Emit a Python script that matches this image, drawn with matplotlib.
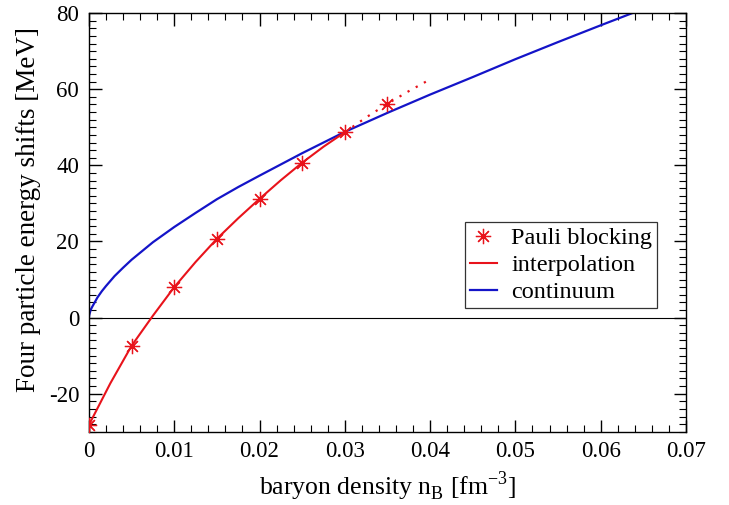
import matplotlib

matplotlib.use("Agg")
import matplotlib.pyplot as plt
from matplotlib.ticker import MultipleLocator

# --- data ------------------------------------------------------------------
# Pauli blocking points
pauli_x = [0.0, 0.005, 0.01, 0.015, 0.02, 0.025, 0.03, 0.035]
pauli_y = [-28.2, -7.4, 8.0, 20.7, 31.2, 40.7, 48.7, 56.2]

# interpolation (solid up to 0.03, dotted continuation to 0.04)
interp_x = [0.0, 0.0025, 0.005, 0.0075, 0.01, 0.0125, 0.015, 0.0175,
            0.02, 0.0225, 0.025, 0.0275, 0.03]
interp_y = [-28.2, -17.3, -7.4, 0.5, 8.0, 14.6, 20.7, 26.1,
            31.2, 36.1, 40.7, 44.9, 48.7]
extrap_x = [0.03, 0.0325, 0.035, 0.0375, 0.04]
extrap_y = [48.7, 52.6, 56.2, 59.5, 62.6]

# continuum
cont_x = [0.0, 0.00003, 0.0001, 0.0002, 0.00035, 0.0005, 0.00075, 0.001,
          0.0015, 0.002, 0.003, 0.004, 0.005, 0.0075, 0.01, 0.0125, 0.015,
          0.0175, 0.02, 0.025, 0.03, 0.035, 0.04, 0.045, 0.05, 0.055, 0.06,
          0.0637]
cont_y = [0.0, 0.6, 1.2, 2.0, 2.7, 3.3, 4.3, 5.3,
          6.9, 8.3, 10.9, 13.1, 15.2, 19.8, 23.8, 27.5, 31.1,
          34.3, 37.3, 43.2, 48.8, 53.8, 58.6, 63.2, 67.9, 72.4, 76.8,
          80.0]

RED, BLUE = "#e8131b", "#1414c8"

plt.rcParams.update({
    "font.family": "Liberation Serif",
    "font.size": 16,
    "axes.unicode_minus": False,
})

fig = plt.figure(figsize=(7.29, 5.05), dpi=100)
ax = fig.add_axes([0.122, 0.145, 0.819, 0.829])

ax.axhline(0, color="black", lw=0.8, zorder=1)
ax.plot(cont_x, cont_y, color=BLUE, lw=1.6, label="continuum", zorder=2)
ax.plot(interp_x, interp_y, color=RED, lw=1.5, label="interpolation", zorder=3)
ax.plot(extrap_x, extrap_y, color=RED, lw=1.6, ls=(0, (1, 3.2)), zorder=3)
ax.plot(pauli_x, pauli_y, ls="none", marker=(8, 2, 0), ms=11, mew=0.9,
        color=RED, label="Pauli blocking", zorder=4)

ax.set_xlim(0, 0.07)
ax.set_ylim(-30, 80)
ax.xaxis.set_major_locator(MultipleLocator(0.01))
ax.xaxis.set_minor_locator(MultipleLocator(0.002))
ax.yaxis.set_major_locator(MultipleLocator(20))
ax.yaxis.set_minor_locator(MultipleLocator(2))
ax.xaxis.set_major_formatter(plt.FuncFormatter(lambda v, p: "0" if abs(v) < 1e-9 else f"{v:.2f}"))
ax.tick_params(which="both", direction="in", top=True, right=True, labelsize=16.5)
ax.tick_params(which="major", length=9, width=1.0, pad=7)
ax.tick_params(which="minor", length=5, width=0.8)
for s in ax.spines.values():
    s.set_linewidth(1.0)

ax.set_xlabel("baryon density n$_\\mathregular{B}$ [fm$^\\mathregular{-3}$]", fontsize=18.5)
ax.xaxis.set_label_coords(0.5, -0.09)
ax.set_ylabel("Four particle energy shifts [MeV]", fontsize=19.5)
ax.yaxis.set_label_coords(-0.08, 0.53)

h, l = ax.get_legend_handles_labels()
order = [2, 1, 0]
leg = ax.legend([h[i] for i in order], [l[i] for i in order],
                loc="upper left", bbox_to_anchor=(0.63, 0.50), fontsize=17.5,
                frameon=True, fancybox=False, edgecolor="black",
                handlelength=1.1, handletextpad=0.6, borderpad=0.2,
                labelspacing=0.2, borderaxespad=0)
leg.get_frame().set_linewidth(0.9)

fig.savefig("out.png", dpi=100)
